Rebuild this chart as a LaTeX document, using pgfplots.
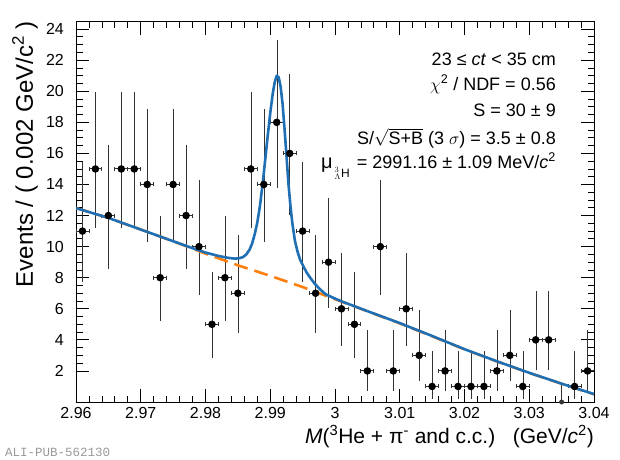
\documentclass[border=0pt]{standalone}
\usepackage{pgfplots}
\pgfplotsset{compat=1.18}
\usepackage{pgfplotstable}
\usepackage{fontspec}
\setmainfont{Liberation Sans}
\newfontfamily\monofont{Liberation Mono}
\definecolor{rootblue}{HTML}{1F6FB4}
\definecolor{rootorange}{HTML}{FF7F0E}

\pgfplotstableread{
x y ep em
2.961 11 4.416 3.266
2.963 15 4.958 3.831
2.965 12 4.559 3.415
2.967 15 4.958 3.831
2.969 15 4.958 3.831
2.971 14 4.831 3.700
2.973 8 3.945 2.768
2.975 14 4.831 3.700
2.977 12 4.559 3.415
2.979 10 4.266 3.109
2.981 5 3.382 2.160
2.983 8 3.945 2.768
2.985 7 3.770 2.581
2.987 15 4.958 3.831
2.989 14 4.831 3.700
2.991 18 5.321 4.215
2.993 16 5.083 3.957
2.995 11 4.416 3.266
2.997 7 3.770 2.581
2.999 9 4.110 2.943
3.001 6 3.584 2.380
3.003 5 3.382 2.160
3.005 2 2.638 1.292
3.007 10 4.266 3.109
3.009 2 2.638 1.292
3.011 6 3.584 2.380
3.013 3 2.918 1.633
3.015 1 2.300 0.827
3.017 2 2.638 1.292
3.019 1 2.300 0.827
3.021 1 2.300 0.827
3.023 1 2.300 0.827
3.025 2 2.638 1.292
3.027 3 2.918 1.633
3.029 1 2.300 0.827
3.031 4 3.163 1.914
3.033 4 3.163 1.914
3.035 0 1.148 0
3.037 1 2.300 0.827
3.039 2 2.638 1.292
}\datatable

\pgfplotstableread{
x y
2.960 12.48
2.965 11.85
2.970 11.10
2.975 10.35
2.980 9.55
2.985 8.80
2.990 8.12
2.995 7.40
3.000 6.62
3.005 5.84
3.010 5.06
3.015 4.23
3.020 3.39
3.025 2.61
3.030 1.87
3.035 1.17
3.040 0.50
}\bkgtable

\pgfplotstableread{
x y
2.9600 12.48
2.9650 11.85
2.9700 11.10
2.9750 10.35
2.9780 9.90
2.9800 9.62
2.9820 9.40
2.9835 9.28
2.9845 9.23
2.9852 9.25
2.9858 9.33
2.9863 9.50
2.9868 9.80
2.9872 10.20
2.9876 10.80
2.9880 11.55
2.9884 12.60
2.9888 13.95
2.9892 15.50
2.9896 17.10
2.9900 18.60
2.9904 19.90
2.9907 20.60
2.9910 21.00
2.9913 20.90
2.9916 20.30
2.9919 19.20
2.9922 17.60
2.9925 15.90
2.9928 14.10
2.9931 12.70
2.9934 11.55
2.9938 10.40
2.9942 9.70
2.9946 9.17
2.9951 8.75
2.9956 8.35
2.9962 7.98
2.9969 7.60
2.9977 7.25
2.9985 6.95
2.9995 6.75
3.0010 6.48
3.0050 5.85
3.0100 5.08
3.0150 4.25
3.0200 3.40
3.0250 2.62
3.0300 1.88
3.0350 1.18
3.0400 0.51
}\totaltable

\begin{document}
\begin{tikzpicture}
\useasboundingbox (-76pt,-57pt) rectangle (544pt,402pt);
\begin{axis}[
  at={(0pt,0pt)}, anchor=south west,
  scale only axis, width=518pt, height=380.5pt,
  xmin=2.96, xmax=3.04, ymin=0, ymax=24.49,
  xtick={2.96,2.97,2.98,2.99,3.00,3.01,3.02,3.03,3.04},
  xticklabels={2.96,2.97,2.98,2.99,3,3.01,3.02,3.03,3.04},
  ytick={2,4,6,8,10,12,14,16,18,20,22,24},
  yticklabels={2,4,6,8,10,12,14,16,18,20,22,24},
  minor x tick num=4, minor y tick num=3,
  tick align=inside,
  major tick length=13pt, minor tick length=6.5pt,
  tick style={black, line width=0.8pt},
  axis line style={black, line width=0.8pt},
  x tick label style={font=\fontsize{16}{18}\selectfont, inner sep=0pt, anchor=north, yshift=-5pt},
  y tick label style={font=\fontsize{16}{18}\selectfont, inner sep=0pt, anchor=east, xshift=-12pt},
  clip=true,
  unbounded coords=discard,
]
% vertical (Poisson) error bars
\addplot[only marks, mark=none, black!80, line width=0.9pt,
  error bars/.cd, y dir=both, y explicit, error mark=none]
  table[x=x, y=y, y error plus=ep, y error minus=em] {\datatable};
% horizontal bin-width bars and markers
\addplot[only marks, mark=*, mark size=3.3pt, black, line width=0.9pt,
  restrict y to domain=0.5:100,
  error bars/.cd, x dir=both, x fixed=0.001,
  error bar style={black!80, line width=0.9pt},
  error mark options={rotate=90, mark size=2pt, black!80, line width=0.9pt}]
  table[x=x, y=y] {\datatable};
% background
\addplot[rootorange, line width=2.6pt, dash pattern=on 14pt off 7pt, no markers]
  table[x=x, y=y] {\bkgtable};
% total fit
\addplot[rootblue, line width=2.6pt, no markers, line join=round]
  table[x=x, y=y] {\totaltable};
\end{axis}

% fit info
\begin{scope}[every node/.style={anchor=base east, inner sep=0pt, font=\fontsize{18}{20}\selectfont}]
\node at (480pt,337pt) {23 ≤ \textit{ct} < 35 cm};
\node at (480pt,312pt) {$\chi$\textsuperscript{2} / NDF = 0.56};
\node at (480pt,286pt) {S = 30 ± 9};
\node at (480pt,258pt) {S/$\sqrt{\mbox{S+B}}$ (3 $\sigma$) = 3.5 ± 0.8};
\node at (480pt,234pt) {{\fontsize{20}{20}\selectfont μ}\raisebox{-0.5em}{\fontsize{12}{12}\selectfont\kern2pt${}^{3}_{\Lambda}$H}\kern7pt= 2991.16 ± 1.09 MeV/\textit{c}\textsuperscript{2}};
\end{scope}

% axis titles
\node[rotate=90, anchor=base east, inner sep=0pt, font=\fontsize{24}{26}\selectfont]
  at (-43pt,381pt) {Events / ( 0.002 GeV/c\textsuperscript{2} )};
\node[anchor=base east, inner sep=0pt, font=\fontsize{21}{24}\selectfont]
  at (518pt,-41.5pt) {\textit{M}(\textsuperscript{3}He + π\textsuperscript{-} and c.c.)\ \ \ (GeV/\textit{c}\textsuperscript{2})};
\node[anchor=base west, inner sep=0pt, text=black!40, font=\monofont\fontsize{12.5}{14}\selectfont]
  at (-71pt,-54pt) {ALI-PUB-562130};
\end{tikzpicture}
\end{document}
